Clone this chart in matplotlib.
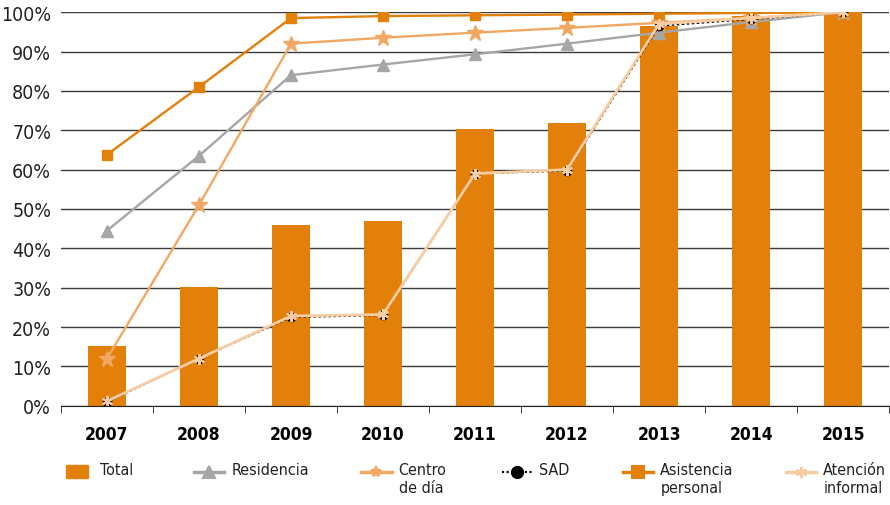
import matplotlib
matplotlib.use("Agg")
import matplotlib.pyplot as plt
from matplotlib.lines import Line2D
from matplotlib.patches import Rectangle
from matplotlib.ticker import FuncFormatter, FixedLocator

plt.rcParams['font.family'] = ['DejaVu Sans']
plt.rcParams['font.stretch'] = 'condensed'

years = ["2007", "2008", "2009", "2010", "2011", "2012", "2013", "2014", "2015"]
total = [15.2, 30.2, 46.0, 47.0, 70.3, 71.8, 96.4, 99.0, 100.0]
residencia = [44.5, 63.5, 84.0, 86.7, 89.3, 92.0, 94.8, 97.5, 100.0]
centro_dia = [12.0, 51.0, 92.0, 93.5, 94.8, 96.0, 97.3, 98.5, 100.0]
sad = [1.0, 12.0, 22.5, 23.0, 59.0, 59.7, 96.5, 98.2, 100.0]
asistencia = [63.8, 81.0, 98.5, 99.0, 99.2, 99.4, 99.6, 99.8, 100.0]
atencion = [1.2, 12.0, 22.8, 23.2, 59.0, 60.0, 97.0, 98.5, 100.0]

c_bar = "#E2800A"
c_res = "#A6A6A6"
c_cen = "#F0A862"
c_asi = "#E2800A"
c_ate = "#F8CCA2"

fig = plt.figure(figsize=(8.9, 5.06), dpi=100)
ax = fig.add_axes([0.0685, 0.196, 0.9305, 0.778])

x = list(range(len(years)))
ax.bar(x, total, width=0.41, color=c_bar, zorder=2)

ax.plot(x, residencia, color=c_res, lw=1.7, marker="^", ms=8, zorder=3)
ax.plot(x, centro_dia, color=c_cen, lw=1.7, marker="*", ms=12, zorder=3)
ax.plot(x, asistencia, color=c_asi, lw=1.7, marker="s", ms=7, zorder=4)
ax.plot(x, sad, color="black", lw=1.2, ls=(0, (1.5, 1.5)), marker="o", ms=6, zorder=4)
ax.plot(x, atencion, color=c_ate, lw=2.0, marker=(6, 2, 0), ms=8, mew=1.5, zorder=5)

ax.set_xlim(-0.5, 8.5)
ax.set_ylim(0, 100)
ax.yaxis.set_major_locator(FixedLocator(range(0, 101, 10)))
ax.yaxis.set_major_formatter(FuncFormatter(lambda v, p: "%d%%" % v))
ax.grid(axis="y", color="#3a3a3a", lw=1, zorder=0)
ax.set_axisbelow(True)
for s in ["top", "right", "left"]:
    ax.spines[s].set_visible(False)
ax.spines["bottom"].set_color("#222222")
ax.spines["bottom"].set_zorder(6)
ax.tick_params(axis="y", length=0, labelsize=14, pad=7, colors="#222222")

ax.set_xticks(x)
ax.set_xticklabels(years, fontsize=12.5, fontweight="bold")
ax.tick_params(axis="x", length=0, pad=14)
ax.set_xticks([i - 0.5 for i in range(len(years) + 1)], minor=True)
ax.tick_params(axis="x", which="minor", length=5, direction="out", color="#222222")

# legend drawn by hand so the handles line up with the first text line
ly = 0.065
entries = [
    ("patch", c_bar, None, "Total", 0.074),
    ("line", c_res, "^", "Residencia", 0.218),
    ("line", c_cen, "*", "Centro\nde día", 0.406),
    ("sad", "black", "o", "SAD", 0.564),
    ("line", c_asi, "s", "Asistencia\npersonal", 0.700),
    ("line", c_ate, (6, 2, 0), "Atención\ninformal", 0.883),
]
for kind, col, mk, lab, x0 in entries:
    if kind == "patch":
        fig.patches.append(Rectangle((x0, ly - 0.012), 0.025, 0.026, color=col,
                                     transform=fig.transFigure, figure=fig))
        tx = x0 + 0.038
    else:
        xs = [x0, x0 + 0.034]
        if kind == "sad":
            fig.lines.append(Line2D(xs, [ly, ly], color=col, lw=1.5, ls=(0, (1, 1.2)),
                                    transform=fig.transFigure, figure=fig))
        else:
            fig.lines.append(Line2D(xs, [ly, ly], color=col, lw=2.5,
                                    transform=fig.transFigure, figure=fig))
        fig.lines.append(Line2D([x0 + 0.017], [ly], color=col, marker=mk, ms=8,
                                mew=1.5, transform=fig.transFigure, figure=fig))
        tx = x0 + 0.042
    fig.text(tx, ly + 0.019, lab, fontsize=11.5, va="top", ha="left",
             color="#222222", linespacing=1.25)

fig.savefig("out.png", dpi=100)
